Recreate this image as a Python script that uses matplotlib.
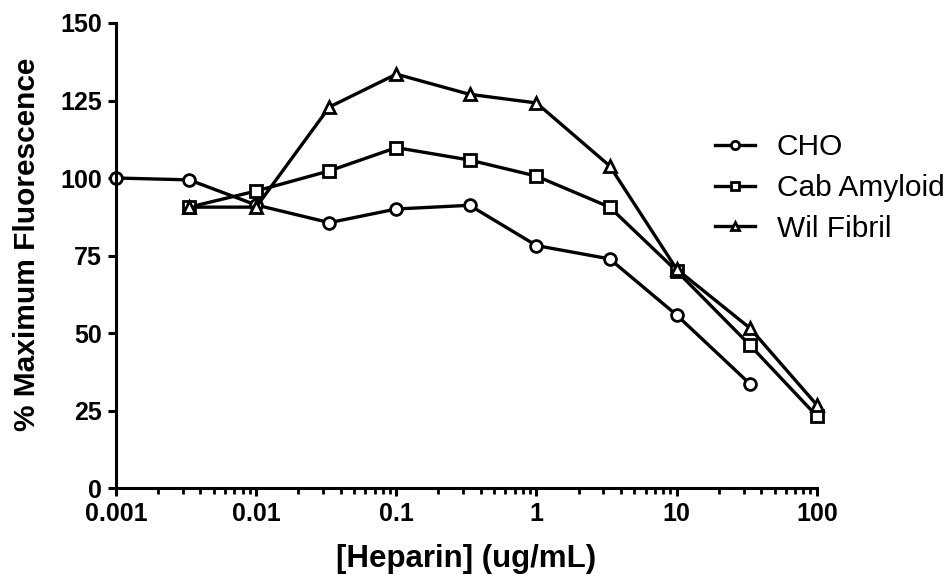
import numpy as np
import matplotlib.pyplot as plt

plt.rcParams['font.family'] = ['Liberation Sans', 'DejaVu Sans']

conc = [0.001, 0.00333, 0.01, 0.0333, 0.1, 0.333, 1, 3.33, 10, 33.3, 100]

cho_x = conc[:10]
cho = [100, 99.4, 91.3, 85.6, 90.0, 91.2, 78.2, 73.9, 55.8, 33.6]

cab_x = conc[1:]
cab = [90.6, 95.8, 102.3, 109.8, 105.8, 100.6, 90.6, 70.0, 46.1, 23.2]

wil_x = conc[1:]
wil = [90.6, 90.6, 122.9, 133.5, 127.0, 124.2, 103.9, 70.6, 51.6, 26.8]

fig = plt.figure(figsize=(9.52, 5.75), dpi=100)
ax = fig.add_axes([0.1218, 0.1513, 0.7362, 0.8087])

style = dict(color='black', lw=2.4, markersize=8.5, markeredgewidth=2,
             markerfacecolor='white', clip_on=False)
ax.plot(cho_x, cho, marker='o', label='CHO', **style)
ax.plot(cab_x, cab, marker='s', label='Cab Amyloid', **style)
ax.plot(wil_x, wil, marker='^', label='Wil Fibril', **style)

ax.set_xscale('log')
ax.set_xlim(0.001, 100)
ax.set_ylim(0, 150)
ax.set_yticks([0, 25, 50, 75, 100, 125, 150])
ax.set_xticks([0.001, 0.01, 0.1, 1, 10, 100])
ax.set_xticklabels(['0.001', '0.01', '0.1', '1', '10', '100'])

for s in ['top', 'right']:
    ax.spines[s].set_visible(False)
for s in ['left', 'bottom']:
    ax.spines[s].set_linewidth(2.2)

ax.tick_params(axis='both', which='major', width=2.2, length=6,
               labelsize=18, pad=4)
ax.tick_params(axis='x', which='minor', width=2, length=4)
for lab in ax.get_xticklabels() + ax.get_yticklabels():
    lab.set_fontweight('bold')

ax.set_xlabel('[Heparin] (ug/mL)', fontsize=22.5, fontweight='bold', labelpad=13)
ax.set_ylabel('% Maximum Fluorescence', fontsize=21.5, fontweight='bold')
ax.yaxis.set_label_coords(-0.107, 0.523)

leg = fig.legend(loc='center left', bbox_to_anchor=(0.751, 0.673), frameon=False,
                 fontsize=21.5, handlelength=1.35, handletextpad=0.72,
                 markerscale=0.7, labelspacing=0.43, borderpad=0,
                 borderaxespad=0)

plt.savefig('out.png', dpi=100)
